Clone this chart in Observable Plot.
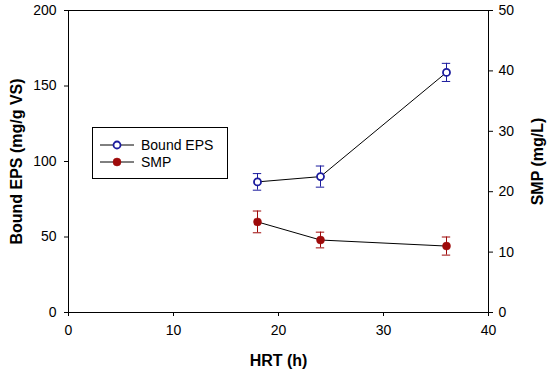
<!DOCTYPE html>
<html>
<head>
<meta charset="utf-8">
<script src="https://cdn.jsdelivr.net/npm/d3@7"></script>
<script src="https://cdn.jsdelivr.net/npm/@observablehq/plot@0.6"></script>
<style>
  html, body { margin: 0; padding: 0; background: #fff; }
  #wrap { position: relative; width: 550px; height: 373px; font-family: "Liberation Sans", Arial, sans-serif; }
  #legend { position: absolute; left: 92px; top: 127px; width: 136px; height: 52px; border: 1px solid #000; background: #fff; box-sizing: border-box; font-size: 14px; }
  .row { position: absolute; left: 7px; height: 16px; display: flex; align-items: center; }
  .row svg { display: block; }
  .row span { margin-left: 7px; }
</style>
</head>
<body>
<div id="wrap"></div>
<script>
// ---- data ----
const hrt = [18, 24, 36];
const boundEPS = [86.5, 90, 159];
const boundEPSErr = [5.5, 7, 6];
const smp = [15, 12, 11];
const smpErr = [1.8, 1.3, 1.5];
const xTicks = [0, 10, 20, 30, 40];
const leftTicks = [0, 50, 100, 150, 200];
const rightTicks = [0, 10, 20, 30, 40, 50];
const seriesNames = ["Bound EPS", "SMP"];
const xTitle = "HRT (h)";
const leftTitle = "Bound EPS (mg/g VS)";
const rightTitle = "SMP (mg/L)";

const blue = "#1c1c9e";
const red = "#9e0a0a";
const k = 4; // right axis (0-50) mapped onto left scale (0-200)

const eps = hrt.map((x, i) => ({x, y: boundEPS[i], e: boundEPSErr[i]}));
const smpD = hrt.map((x, i) => ({x, y: smp[i] * k, e: smpErr[i] * k}));
const cap = 0.4;

function errMarks(data, color) {
  return [
    Plot.ruleX(data, {x: "x", y1: d => d.y - d.e, y2: d => d.y + d.e, stroke: color, strokeWidth: 1}),
    Plot.ruleY(data, {y: d => d.y + d.e, x1: d => d.x - cap, x2: d => d.x + cap, stroke: color, strokeWidth: 1}),
    Plot.ruleY(data, {y: d => d.y - d.e, x1: d => d.x - cap, x2: d => d.x + cap, stroke: color, strokeWidth: 1})
  ];
}

const chart = Plot.plot({
  width: 550,
  height: 373,
  marginLeft: 68,
  marginRight: 62,
  marginTop: 10,
  marginBottom: 61,
  style: {fontFamily: "Liberation Sans, Arial, sans-serif", fontSize: "14px", background: "#fff", color: "#000"},
  x: {domain: [0, 40]},
  y: {domain: [0, 200]},
  marks: [
    Plot.frame({stroke: "#000", strokeWidth: 1}),
    Plot.axisX(xTicks, {tickSize: 4, tickPadding: 9, label: null, fontSize: 14}),
    Plot.axisY(leftTicks, {anchor: "left", tickSize: 4, tickPadding: 8, label: null, fontSize: 14}),
    Plot.axisY(rightTicks.map(t => t * k), {anchor: "right", tickSize: 4, tickPadding: 6, label: null, fontSize: 14, tickFormat: d => d / k}),
    Plot.text([xTitle], {frameAnchor: "bottom", dy: 48, fontWeight: "bold", fontSize: 16, lineAnchor: "middle", textAnchor: "middle"}),
    Plot.text([leftTitle], {frameAnchor: "left", dx: -52, rotate: -90, fontWeight: "bold", fontSize: 16, lineAnchor: "middle", textAnchor: "middle"}),
    Plot.text([rightTitle], {frameAnchor: "right", dx: 49, rotate: -90, fontWeight: "bold", fontSize: 16, lineAnchor: "middle", textAnchor: "middle"}),
    ...errMarks(eps, blue),
    ...errMarks(smpD, red),
    Plot.line(eps, {x: "x", y: "y", stroke: "#000", strokeWidth: 1}),
    Plot.line(smpD, {x: "x", y: "y", stroke: "#000", strokeWidth: 1}),
    Plot.dot(eps, {x: "x", y: "y", r: 3.5, stroke: blue, strokeWidth: 1.8, fill: "#fff"}),
    Plot.dot(smpD, {x: "x", y: "y", r: 4, fill: red, stroke: red, strokeWidth: 0.5})
  ]
});

const wrap = document.getElementById("wrap");
wrap.appendChild(chart);

// legend
const legend = document.createElement("div");
legend.id = "legend";
const styles = [
  {name: seriesNames[0], color: blue, fill: "#fff", r: 3.5, sw: 1.8},
  {name: seriesNames[1], color: red, fill: red, r: 4, sw: 0.5}
];
styles.forEach((s, i) => {
  const row = document.createElement("div");
  row.className = "row";
  row.style.top = (9 + i * 17) + "px";
  row.innerHTML = `<svg width="34" height="12"><line x1="0" x2="34" y1="6" y2="6" stroke="#000" stroke-width="1"/><circle cx="17" cy="6" r="${s.r}" fill="${s.fill}" stroke="${s.color}" stroke-width="${s.sw}"/></svg><span>${s.name}</span>`;
  legend.appendChild(row);
});
wrap.appendChild(legend);
</script>
</body>
</html>
